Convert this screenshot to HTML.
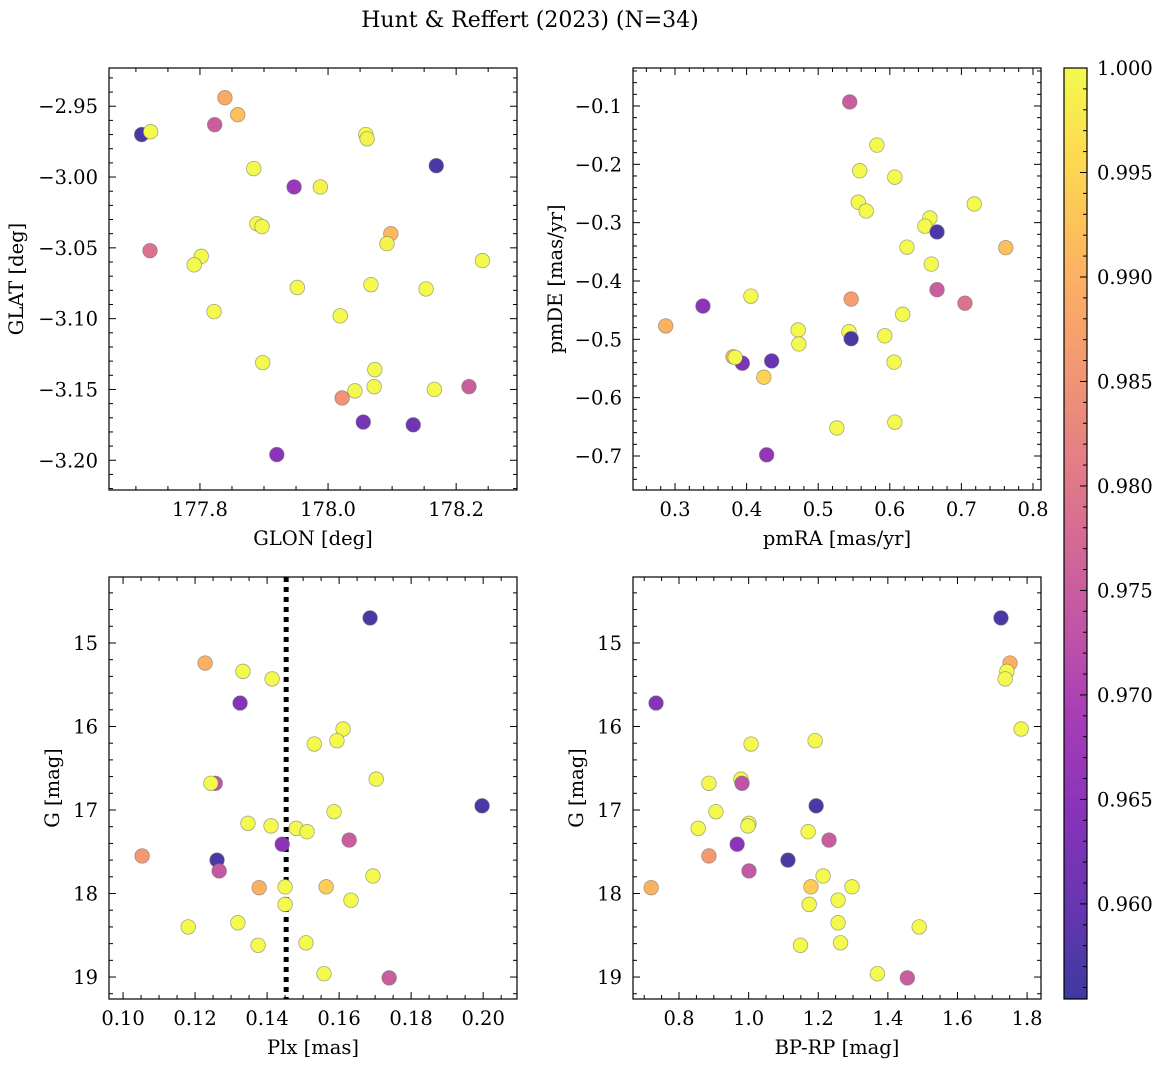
<!DOCTYPE html>
<html><head><meta charset="utf-8"><style>
html,body{margin:0;padding:0;background:#fff;}
svg text{font-family:"DejaVu Serif","Liberation Serif",serif;fill:#000;}
</style></head><body>
<svg id="chart" width="1161" height="1067" viewBox="0 0 1161 1067" xmlns="http://www.w3.org/2000/svg">
<text x="530" y="27" font-size="22" text-anchor="middle">Hunt &amp; Reffert (2023) (N=34)</text>
</svg>
<script>
// Panel 1: GLON vs GLAT
const glon1=[177.709,177.723,177.839,177.823,177.859,177.884,177.947,177.988,178.059,178.061,178.169,177.722,177.889,177.897,178.098,178.092,177.802,177.791,177.952,178.067,178.153,178.241,177.822,178.019,177.898,178.073,178.072,178.042,178.166,178.220,178.022,178.055,178.133,177.920];
const glat1=[-2.970,-2.968,-2.944,-2.963,-2.956,-2.994,-3.007,-3.007,-2.970,-2.973,-2.992,-3.052,-3.033,-3.035,-3.040,-3.047,-3.056,-3.062,-3.078,-3.076,-3.079,-3.059,-3.095,-3.098,-3.131,-3.136,-3.148,-3.151,-3.150,-3.148,-3.156,-3.173,-3.175,-3.196];
const prob1=[.957,1,.989,.975,.992,1,.967,.999,1,.999,.957,.979,1,1,.991,.999,1,1,1,1,1,1,1,1,1,1,1,1,1,.975,.985,.962,.961,.965];
// Panel 2: pmRA vs pmDE
const pmra2=[0.544,0.582,0.558,0.607,0.556,0.567,0.718,0.656,0.649,0.666,0.624,0.762,0.658,0.666,0.705,0.546,0.406,0.339,0.287,0.618,0.472,0.543,0.593,0.473,0.546,0.381,0.394,0.435,0.606,0.424,0.526,0.607,0.428,0.384];
const pmde2=[-0.093,-0.167,-0.211,-0.222,-0.265,-0.280,-0.268,-0.292,-0.306,-0.316,-0.342,-0.343,-0.371,-0.415,-0.438,-0.431,-0.426,-0.443,-0.477,-0.457,-0.484,-0.487,-0.494,-0.508,-0.499,-0.530,-0.541,-0.537,-0.539,-0.565,-0.652,-0.642,-0.698,-0.531];
const prob2=[.975,1,1,1,1,1,1,1,1,.957,1,.992,1,.975,.979,.987,1,.965,.99,1,1,1,1,1,.957,.992,.963,.96,1,.995,1,1,.966,1];
// Panel 3: Plx vs G
const plx3=[0.1686,0.1228,0.1333,0.1414,0.1325,0.1611,0.1531,0.1594,0.1703,0.1256,0.1244,0.1997,0.1586,0.1347,0.1411,0.1481,0.1511,0.1628,0.1442,0.1053,0.1261,0.1267,0.1694,0.1378,0.1450,0.1564,0.1450,0.1633,0.1181,0.1319,0.1375,0.1508,0.1558,0.1739];
const g3=[14.70,15.24,15.34,15.43,15.72,16.03,16.21,16.17,16.63,16.68,16.68,16.95,17.02,17.16,17.19,17.22,17.26,17.36,17.41,17.55,17.60,17.73,17.79,17.93,17.92,17.92,18.13,18.08,18.40,18.35,18.62,18.59,18.96,19.01];
const prob3=[.957,.99,1,1,.964,1,1,1,1,.973,1,.957,1,1,1,1,1,.975,.965,.986,.957,.974,1,.99,1,.994,1,1,1,1,1,1,1,.975];
const plxLine=[0.1453];
// Panel 4: BP-RP vs G
const bprp4=[1.725,1.751,1.742,1.737,0.734,1.783,1.007,1.191,0.978,0.981,0.886,1.194,0.906,1.001,0.998,0.855,1.171,1.231,0.967,0.886,1.113,1.001,1.214,0.720,1.297,1.179,1.174,1.257,1.490,1.257,1.149,1.264,1.370,1.456];
const g4=[14.70,15.24,15.34,15.43,15.72,16.03,16.21,16.17,16.63,16.68,16.68,16.95,17.02,17.16,17.19,17.22,17.26,17.36,17.41,17.55,17.60,17.73,17.79,17.93,17.92,17.92,18.13,18.08,18.40,18.35,18.62,18.59,18.96,19.01];
const prob4=[.957,.99,1,1,.964,1,1,1,1,.973,1,.957,1,1,1,1,1,.975,.965,.986,.957,.974,1,.99,1,.994,1,1,1,1,1,1,1,.975];
// tick labels
const ticks1x=["177.8","178.0","178.2"], ticks1y=["-2.95","-3.00","-3.05","-3.10","-3.15","-3.20"];
const ticks2x=["0.3","0.4","0.5","0.6","0.7","0.8"], ticks2y=["-0.1","-0.2","-0.3","-0.4","-0.5","-0.6","-0.7"];
const ticks3x=["0.10","0.12","0.14","0.16","0.18","0.20"], ticksGy=["15","16","17","18","19"];
const ticks4x=["0.8","1.0","1.2","1.4","1.6","1.8"];
const ticksCb=["0.960","0.965","0.970","0.975","0.980","0.985","0.990","0.995","1.000"];
const cbMin=0.95545, cbMax=1.0;

const FS=19.5;
const svg=document.getElementById('chart');
const NS='http://www.w3.org/2000/svg';
function mk(tag,attrs,parent){const e=document.createElementNS(NS,tag);for(const k in attrs)e.setAttribute(k,attrs[k]);(parent||svg).appendChild(e);return e;}
const stops=[[13,8,135],[65,4,157],[106,0,168],[143,13,164],[177,42,144],[204,71,120],[225,100,98],[242,132,75],[252,166,54],[252,206,37],[240,249,33]];
function plasma(t){t=Math.max(0,Math.min(1,t));const p=t*10,i=Math.min(9,Math.floor(p)),f=p-i;const a=stops[i],b=stops[i+1];
 const c=a.map((v,k)=>Math.round((v+(b[k]-v)*f)*0.8+255*0.2));return `rgb(${c[0]},${c[1]},${c[2]})`;}
function cval(v){return plasma((v-cbMin)/(cbMax-cbMin));}

function panel(o){
 const g=mk('g',{});
 
 
 const sx=v=>o.x0+(v-o.xmin)/(o.xmax-o.xmin)*(o.x1-o.x0);
 const sy=o.invert? v=>o.y0+(v-o.ymin)/(o.ymax-o.ymin)*(o.y1-o.y0) : v=>o.y1-(v-o.ymin)/(o.ymax-o.ymin)*(o.y1-o.y0);
 const tg=mk('g',{stroke:'#000','stroke-width':1},g);
 for(let v=Math.ceil(o.xmin/o.xminor-1e-9)*o.xminor; v<=o.xmax+1e-9; v+=o.xminor){
  const major=Math.abs(v/o.xmajor-Math.round(v/o.xmajor))<1e-6, L=major?7:4, X=sx(v);
  mk('line',{x1:X,x2:X,y1:o.y1,y2:o.y1-L},tg);mk('line',{x1:X,x2:X,y1:o.y0,y2:o.y0+L},tg);}
 for(let v=Math.ceil(o.ymin/o.yminor-1e-9)*o.yminor; v<=o.ymax+1e-9; v+=o.yminor){
  const major=Math.abs(v/o.ymajor-Math.round(v/o.ymajor))<1e-6, L=major?7:4, Y=sy(v);
  mk('line',{y1:Y,y2:Y,x1:o.x0,x2:o.x0+L},tg);mk('line',{y1:Y,y2:Y,x1:o.x1,x2:o.x1-L},tg);}
 o.xt.forEach(s=>{const t=mk('text',{x:sx(parseFloat(s)),y:o.y1+26,'font-size':FS,'text-anchor':'middle'},g);t.textContent=s;
  
  });
 o.yt.forEach(s=>{const t=mk('text',{x:o.x0-11,y:sy(parseFloat(s))+7,'font-size':FS,'text-anchor':'end'},g);t.textContent=s.replace('-','\u2212');
  
  });
 const xl=mk('text',{x:(o.x0+o.x1)/2,y:o.y1+55,'font-size':FS,'text-anchor':'middle'},g);xl.textContent=o.xlabel;
 
 
 const yl=mk('text',{x:0,y:0,'font-size':FS,'text-anchor':'middle',transform:`translate(${o.ylx},${(o.y0+o.y1)/2}) rotate(-90)`},g);yl.textContent=o.ylabel;
 
 
 if(o.vline){o.vline.forEach(v=>{const l=mk('line',{x1:sx(v),x2:sx(v),y1:o.y0,y2:o.y1,stroke:'#000','stroke-width':5,'stroke-dasharray':'5,5'},g);
  
  });}
 o.xs.forEach((xv,i)=>{const c=mk('circle',{cx:sx(xv),cy:sy(o.ys[i]),r:7.3,fill:cval(o.cs[i]),stroke:'rgba(110,110,110,0.6)','stroke-width':0.8},g);
  
  });
 const fr=mk('rect',{x:o.x0,y:o.y0,width:o.x1-o.x0,height:o.y1-o.y0,fill:'none',stroke:'#000','stroke-width':1.2},g);
 
 
}
panel({name:'panel-glon-glat',x0:109,x1:517,y0:68,y1:490,xmin:177.658,xmax:178.295,ymin:-3.221,ymax:-2.923,xmajor:0.2,xminor:0.05,ymajor:0.05,yminor:0.01,xt:ticks1x,yt:ticks1y,xlabel:'GLON [deg]',ylabel:'GLAT [deg]',ylx:23,xs:glon1,ys:glat1,cs:prob1});
panel({name:'panel-pm',x0:633,x1:1041,y0:68,y1:490,xmin:0.2413,xmax:0.8112,ymin:-0.7583,ymax:-0.0349,xmajor:0.1,xminor:0.02,ymajor:0.1,yminor:0.02,xt:ticks2x,yt:ticks2y,xlabel:'pmRA [mas/yr]',ylabel:'pmDE [mas/yr]',ylx:562,xs:pmra2,ys:pmde2,cs:prob2});
panel({name:'panel-plx-g',x0:109,x1:517,y0:577,y1:999,xmin:0.0961,xmax:0.2094,ymin:14.21,ymax:19.263,invert:true,xmajor:0.02,xminor:0.005,ymajor:1,yminor:0.2,xt:ticks3x,yt:ticksGy,xlabel:'Plx [mas]',ylabel:'G [mag]',ylx:59,xs:plx3,ys:g3,cs:prob3,vline:plxLine});
panel({name:'panel-color-g',x0:633,x1:1041,y0:577,y1:999,xmin:0.6678,xmax:1.840,ymin:14.21,ymax:19.263,invert:true,xmajor:0.2,xminor:0.05,ymajor:1,yminor:0.2,xt:ticks4x,yt:ticksGy,xlabel:'BP-RP [mag]',ylabel:'G [mag]',ylx:583,xs:bprp4,ys:g4,cs:prob4});

// colorbar
const cb=mk('g',{});


const defs=mk('defs',{},cb);const lg=mk('linearGradient',{id:'cbg',x1:0,y1:1,x2:0,y2:0},defs);
for(let i=0;i<=20;i++){mk('stop',{offset:i/20,'stop-color':plasma(i/20)},lg);}
const cx0=1064,cx1=1087,cy0=68,cy1=999;
mk('rect',{x:cx0,y:cy0,width:cx1-cx0,height:cy1-cy0,fill:'url(#cbg)',stroke:'#000','stroke-width':1.2},cb);
const cy=v=>cy1-(v-cbMin)/(cbMax-cbMin)*(cy1-cy0);
for(let k=Math.ceil(cbMin/0.001);k<=1000;k++){const v=k/1000,Y=cy(v),major=k%5===0;
 mk('line',{x1:cx1,x2:cx1-(major?7:4),y1:Y,y2:Y,stroke:'#000','stroke-width':1},cb);}
ticksCb.forEach(s=>{const t=mk('text',{x:cx1+10,y:cy(parseFloat(s))+7,'font-size':FS},cb);t.textContent=s;
 
 });
</script>
</body></html>
